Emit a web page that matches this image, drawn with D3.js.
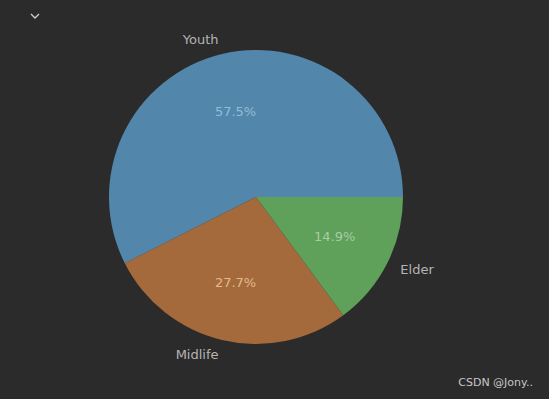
<!DOCTYPE html>
<html>
<head>
<meta charset="utf-8">
<script src="https://cdn.jsdelivr.net/npm/d3@7"></script>
<style>
  body { margin: 0; background: #2b2b2b; }
  svg { display: block; }
</style>
</head>
<body>
<svg id="chart"></svg>
<script>
// data
const labels = ["Youth", "Midlife", "Elder"];
const shares = [57.5, 27.7, 14.9];
const sliceColors = ["#5287ab", "#a46a3b", "#5fa05b"];
const pctColors = ["#93bcd6", "#e2b98f", "#a8cca3"];

const width = 549, height = 399;
const cx = 256, cy = 197, r = 147;

const svg = d3.select("#chart")
    .attr("width", width)
    .attr("height", height);

// little collapse chevron top-left
svg.append("path")
    .attr("d", "M31,14 L35,18 L39,14")
    .attr("fill", "none")
    .attr("stroke", "#d0d0d0")
    .attr("stroke-width", 1.3);

// matplotlib style: start at 3 o'clock, go counterclockwise
const pie = d3.pie()
    .sort(null)
    .startAngle(Math.PI / 2)
    .endAngle(Math.PI / 2 - 2 * Math.PI);

const arcs = pie(shares);

const arc = d3.arc().innerRadius(0).outerRadius(r);
const pctArc = d3.arc().innerRadius(r * 0.6).outerRadius(r * 0.6);
const labelArc = d3.arc().innerRadius(r * 1.1).outerRadius(r * 1.1);

const g = svg.append("g").attr("transform", `translate(${cx},${cy})`);

g.selectAll("path.slice")
    .data(arcs)
    .enter().append("path")
    .attr("class", "slice")
    .attr("d", arc)
    .attr("fill", (d, i) => sliceColors[i]);

g.selectAll("text.pct")
    .data(arcs)
    .enter().append("text")
    .attr("class", "pct")
    .attr("transform", d => `translate(${pctArc.centroid(d)})`)
    .attr("text-anchor", "middle")
    .attr("dominant-baseline", "central")
    .attr("font-family", "DejaVu Sans")
    .attr("font-size", 13)
    .attr("fill", (d, i) => pctColors[i])
    .text(d => d3.format(".1f")(d.data) + "%");

g.selectAll("text.lbl")
    .data(arcs)
    .enter().append("text")
    .attr("class", "lbl")
    .attr("transform", d => `translate(${labelArc.centroid(d)})`)
    .attr("text-anchor", d => labelArc.centroid(d)[0] < 0 ? "end" : "start")
    .attr("dominant-baseline", "central")
    .attr("font-family", "DejaVu Sans")
    .attr("font-size", 13)
    .attr("fill", "#b4b4b4")
    .text((d, i) => labels[i]);

// watermark
svg.append("text")
    .attr("x", 533)
    .attr("y", 386)
    .attr("text-anchor", "end")
    .attr("font-family", "DejaVu Sans")
    .attr("font-size", 11)
    .attr("fill", "#c8c8c8")
    .text("CSDN @Jony..");
</script>
</body>
</html>
